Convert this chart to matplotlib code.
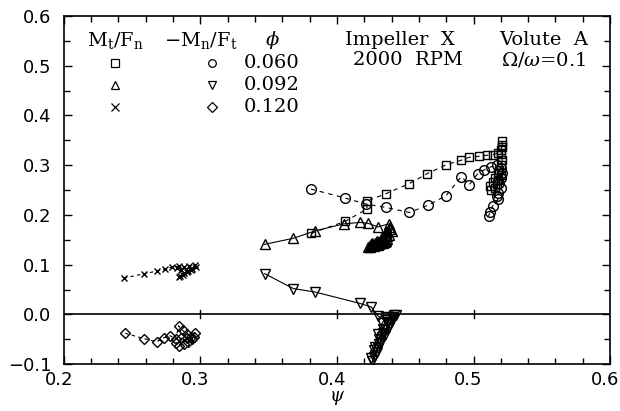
import matplotlib
matplotlib.use('Agg')
import matplotlib.pyplot as plt
import matplotlib.transforms as mtransforms
from matplotlib.ticker import MultipleLocator

plt.rcParams['mathtext.fontset'] = 'dejavuserif'

# phi = 0.060
psi_sq = [0.381, 0.406, 0.422, 0.422, 0.436, 0.453, 0.466, 0.480, 0.491, 0.497, 0.504, 0.510, 0.514,
          0.518, 0.520, 0.521, 0.521, 0.521, 0.520, 0.521, 0.520, 0.519, 0.520, 0.518, 0.517, 0.516,
          0.513, 0.512, 0.514, 0.516, 0.518]
mt_sq = [0.163, 0.187, 0.212, 0.228, 0.243, 0.263, 0.283, 0.301, 0.310, 0.316, 0.318, 0.320, 0.321,
         0.324, 0.330, 0.340, 0.348, 0.336, 0.322, 0.310, 0.300, 0.290, 0.280, 0.270, 0.262, 0.255,
         0.250, 0.258, 0.266, 0.275, 0.285]
psi_ci = [0.381, 0.406, 0.421, 0.436, 0.453, 0.467, 0.480, 0.491, 0.497, 0.503, 0.508, 0.513, 0.517,
          0.520, 0.521, 0.520, 0.519, 0.520, 0.518, 0.517, 0.518, 0.514, 0.512, 0.511]
mn_ci = [0.252, 0.234, 0.222, 0.215, 0.205, 0.220, 0.239, 0.277, 0.261, 0.283, 0.291, 0.297, 0.300,
         0.295, 0.285, 0.275, 0.265, 0.255, 0.245, 0.238, 0.232, 0.218, 0.205, 0.198]

# phi = 0.092
psi_tu = [0.347, 0.368, 0.384, 0.405, 0.417, 0.423, 0.430, 0.438, 0.439, 0.437, 0.436, 0.434, 0.432,
          0.430, 0.428, 0.426, 0.424, 0.423, 0.425, 0.428, 0.431, 0.434, 0.436, 0.437, 0.438, 0.440,
          0.435, 0.432, 0.427, 0.424, 0.426, 0.429, 0.433, 0.436, 0.439, 0.437, 0.434, 0.431, 0.428,
          0.425, 0.430, 0.435]
mt_tu = [0.141, 0.153, 0.168, 0.182, 0.185, 0.183, 0.176, 0.182, 0.175, 0.168, 0.160, 0.153, 0.148,
         0.145, 0.142, 0.140, 0.138, 0.136, 0.137, 0.139, 0.141, 0.143, 0.147, 0.152, 0.160, 0.168,
         0.150, 0.144, 0.138, 0.135, 0.143, 0.148, 0.156, 0.165, 0.172, 0.158, 0.151, 0.146, 0.144,
         0.141, 0.139, 0.146]
psi_td = [0.347, 0.368, 0.384, 0.417, 0.425, 0.430, 0.437, 0.442, 0.440, 0.436, 0.434, 0.433, 0.431,
          0.429, 0.427, 0.426, 0.428, 0.430, 0.432, 0.435, 0.437, 0.439, 0.441, 0.443, 0.438, 0.434,
          0.431, 0.428, 0.425, 0.427, 0.430, 0.433, 0.436]
mn_td = [0.082, 0.052, 0.045, 0.022, 0.015, -0.003, -0.015, -0.002, -0.006, -0.012, -0.030, -0.045,
         -0.060, -0.075, -0.085, -0.093, -0.082, -0.068, -0.055, -0.042, -0.030, -0.020, -0.010,
         -0.002, -0.025, -0.038, -0.050, -0.065, -0.088, -0.072, -0.040, -0.018, -0.005]

# phi = 0.120
psi_x = [0.244, 0.259, 0.268, 0.274, 0.279, 0.284, 0.288, 0.292, 0.296, 0.294, 0.291, 0.288, 0.285,
         0.284, 0.287, 0.290, 0.293, 0.297, 0.286, 0.283]
mt_x = [0.073, 0.082, 0.087, 0.091, 0.095, 0.097, 0.095, 0.097, 0.099, 0.092, 0.088, 0.083, 0.078,
        0.075, 0.080, 0.085, 0.090, 0.095, 0.090, 0.093]
psi_di = [0.245, 0.259, 0.268, 0.273, 0.278, 0.282, 0.284, 0.287, 0.290, 0.293, 0.296, 0.294, 0.291,
          0.288, 0.284, 0.282, 0.286, 0.290, 0.295]
mn_di = [-0.038, -0.049, -0.055, -0.047, -0.043, -0.050, -0.023, -0.032, -0.040, -0.045, -0.038,
         -0.050, -0.055, -0.060, -0.063, -0.058, -0.048, -0.048, -0.045]

phis = ['0.060', '0.092', '0.120']

fig = plt.figure(figsize=(6.2, 4.11), dpi=100)
ax = fig.add_axes([0.103, 0.114, 0.881, 0.847])

def series(x, y, m, ls, ms=6):
    ax.plot(x, y, color='black', ls=ls, lw=0.8, marker=m, ms=ms, mfc='none', mec='black', mew=1.0)

series(psi_sq, mt_sq, 's', (0, (4, 4)), 5.5)
series(psi_ci, mn_ci, 'o', (0, (4, 4)), 7)
series(psi_tu, mt_tu, '^', '-', 7)
series(psi_td, mn_td, 'v', '-', 7)
series(psi_x, mt_x, 'x', (0, (3, 3)), 5)
series(psi_di, mn_di, 'D', (0, (3, 3)), 5)

ax.axhline(0, color='black', lw=1.2)
for xt in [0.3, 0.4, 0.5]:
    ax.plot([xt, xt], [-0.008, 0.008], color='black', lw=1.0)

ax.set_xlim(0.2, 0.6)
ax.set_ylim(-0.1, 0.6)
ax.xaxis.set_major_locator(MultipleLocator(0.1))
ax.xaxis.set_minor_locator(MultipleLocator(0.02))
ax.yaxis.set_major_locator(MultipleLocator(0.1))
ax.yaxis.set_minor_locator(MultipleLocator(0.05))
ax.tick_params(which='both', direction='in', top=True, right=True, labelsize=13, width=1)
ax.tick_params(which='major', length=6)
ax.tick_params(which='minor', length=4)
ax.tick_params(axis='x', pad=5)
ax.tick_params(axis='y', pad=9)
for s in ax.spines.values():
    s.set_linewidth(1.2)
ax.set_xlabel(r'$\psi$', fontsize=13, labelpad=0)

# x labels sit a little left of their ticks in the original
shift = mtransforms.ScaledTranslation(-5 / 100, 0, fig.dpi_scale_trans)
for lab in ax.get_xticklabels():
    lab.set_transform(lab.get_transform() + shift)

tf = dict(transform=ax.transAxes, fontsize=14, family='DejaVu Serif', va='center')
ax.text(0.095, 0.930, r'$\mathrm{M_t/F_n}$', ha='center', **tf)
ax.text(0.251, 0.930, r'$-\mathrm{M_n/F_t}$', ha='center', **tf)
ax.text(0.381, 0.930, r'$\phi$', ha='center', **tf)
ax.text(0.615, 0.930, 'Impeller  X', ha='center', **tf)
ax.text(0.879, 0.930, 'Volute  A', ha='center', **tf)
ax.text(0.630, 0.873, '2000  RPM', ha='center', **tf)
ax.text(0.879, 0.873, r'$\Omega/\omega$=0.1', ha='center', **tf)

left_m = ['s', '^', 'x']
right_m = ['o', 'v', 'D']
rows = [0.866, 0.802, 0.739]
for lm, rm, ph, yy in zip(left_m, right_m, phis, rows):
    ax.plot(0.093, yy, transform=ax.transAxes, marker=lm, ms=5.5, mfc='none', mec='black', mew=0.9)
    ax.plot(0.271, yy, transform=ax.transAxes, marker=rm, ms=5.5, mfc='none', mec='black', mew=0.9)
    ax.text(0.330, yy, ph, ha='left', **tf)

plt.savefig('out.png', dpi=100)
